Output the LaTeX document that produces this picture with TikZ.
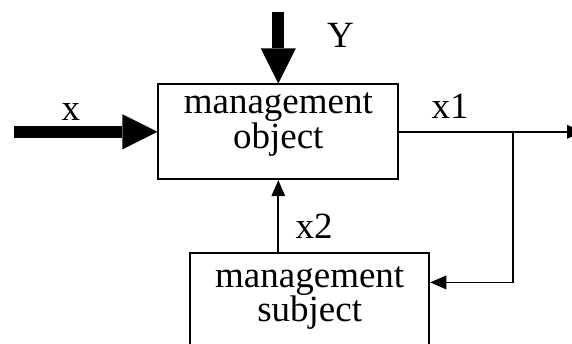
\documentclass[tikz,border=0pt]{standalone}
\usepackage{fontspec}
\setmainfont{Liberation Serif}
\usetikzlibrary{arrows.meta}
\begin{document}
\begin{tikzpicture}[x=1pt,y=-1pt,
  box/.style={draw,line width=1.8pt,inner sep=0pt},
  txt/.style={font=\fontsize{37pt}{37pt}\selectfont,inner sep=0pt,anchor=base},
  boxtxt/.style={inner sep=0pt,anchor=base,align=center},
  thinline/.style={line width=1.8pt},
  bigarrow/.style={line width=12pt,-{Triangle[width=35pt,length=35pt,line width=0pt]}},
  smallarrow/.style={thinline,-{Triangle[width=14pt,length=16pt,line width=0pt]}}
]
\useasboundingbox (0,0) rectangle (572,343);
\clip (0,0) rectangle (572,343);
% boxes
\node[box,minimum width=240pt,minimum height=95pt] (obj) at (278.3,131.8) {};
\node[box,minimum width=239.3pt,minimum height=110pt] (sub) at (309.7,308.3) {};
% box texts
\node[boxtxt,font=\fontsize{37pt}{31pt}\selectfont] (objt) at (278.3,148.3) {management\\object};
\node[boxtxt,font=\fontsize{37pt}{30pt}\selectfont] (subt) at (309.7,321.7) {management\\subject};
% labels
\node[txt] (lY) at (340.5,47) {Y};
\node[txt] (lx) at (70.8,120) {x};
\node[txt] (lx1) at (450,118) {x1};
\node[txt] (lx2) at (314,238) {x2};
% coordinates
\coordinate (yin) at (278.3,12.3);
\coordinate (xin) at (14,131.8);
\coordinate (xb) at (513.3,131.8);
\coordinate (xo) at (583,131.8);
% connectors
\draw[bigarrow] (yin) -- (obj.north);
\draw[bigarrow] (xin) -- (obj.west);
\draw[smallarrow] (obj.east) -- (xo);
\draw[smallarrow] (xb) |- ([yshift=-30pt]sub.north east);
\draw[smallarrow] (obj.south |- sub.north) -- (obj.south);
\end{tikzpicture}
\end{document}
